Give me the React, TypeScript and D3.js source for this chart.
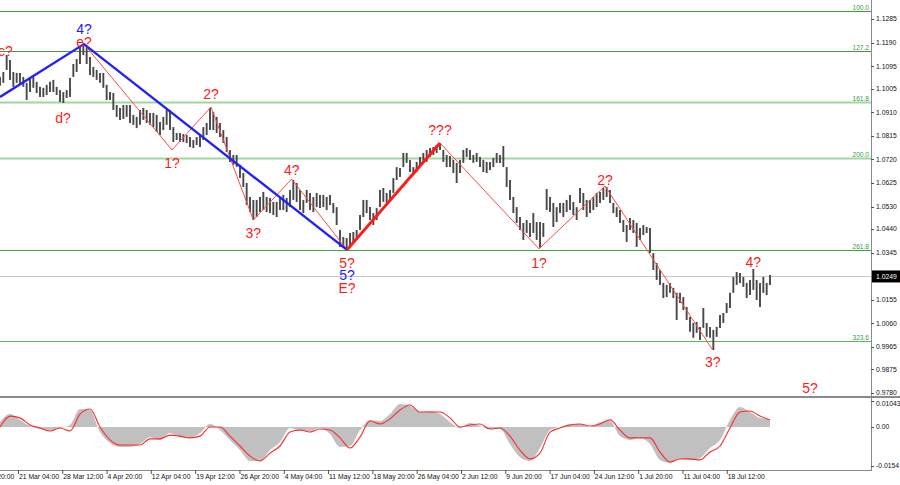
import React from "react";
import * as d3 from "d3";

// ---------- DATA ----------
const barHigh = [
  1.1052, 1.1072, 1.1140, 1.1120, 1.1072, 1.1068, 1.1068, 1.1052, 1.1028, 1.1048,
  1.1052, 1.1032, 1.1012, 1.1008, 1.1020, 1.1032, 1.1040, 1.1012, 1.0999, 1.0991,
  1.0999, 1.1048, 1.1104, 1.1124, 1.1172, 1.1184, 1.1172, 1.1132, 1.1092, 1.1080,
  1.1068, 1.1068, 1.1020, 1.0991, 1.0987, 1.0939, 1.0927, 1.0939, 1.0939, 1.0939,
  1.0899, 1.0891, 1.0919, 1.0927, 1.0919, 1.0907, 1.0907, 1.0899, 1.0871, 1.0891,
  1.0919, 1.0919, 1.0850, 1.0826, 1.0826, 1.0822, 1.0818, 1.0810, 1.0798, 1.0810,
  1.0818, 1.0850, 1.0867, 1.0927, 1.0911, 1.0891, 1.0867, 1.0838, 1.0810, 1.0758,
  1.0738, 1.0738, 1.0698, 1.0665, 1.0625, 1.0569, 1.0557, 1.0557, 1.0569, 1.0589,
  1.0569, 1.0565, 1.0549, 1.0549, 1.0569, 1.0577, 1.0565, 1.0597, 1.0637, 1.0625,
  1.0597, 1.0557, 1.0597, 1.0585, 1.0569, 1.0585, 1.0577, 1.0577, 1.0569, 1.0577,
  1.0545, 1.0528, 1.0436, 1.0408, 1.0404, 1.0424, 1.0428, 1.0436, 1.0496, 1.0557,
  1.0557, 1.0528, 1.0504, 1.0524, 1.0597, 1.0605, 1.0585, 1.0597, 1.0645, 1.0689,
  1.0685, 1.0746, 1.0746, 1.0718, 1.0689, 1.0710, 1.0730, 1.0746, 1.0758, 1.0766,
  1.0770, 1.0778, 1.0786, 1.0758, 1.0738, 1.0734, 1.0718, 1.0706, 1.0718, 1.0758,
  1.0766, 1.0758, 1.0738, 1.0746, 1.0730, 1.0718, 1.0710, 1.0710, 1.0726, 1.0746,
  1.0738, 1.0774, 1.0689, 1.0637, 1.0569, 1.0528, 1.0488, 1.0464, 1.0476, 1.0464,
  1.0504, 1.0468, 1.0468, 1.0464, 1.0601, 1.0569, 1.0545, 1.0528, 1.0545, 1.0545,
  1.0557, 1.0577, 1.0549, 1.0528, 1.0605, 1.0585, 1.0557, 1.0557, 1.0569, 1.0585,
  1.0589, 1.0605, 1.0609, 1.0597, 1.0545, 1.0528, 1.0516, 1.0476, 1.0456, 1.0484,
  1.0476, 1.0464, 1.0444, 1.0456, 1.0448, 1.0444, 1.0343, 1.0303, 1.0275, 1.0223,
  1.0215, 1.0223, 1.0203, 1.0183, 1.0183, 1.0166, 1.0126, 1.0086, 1.0062, 1.0066,
  1.0046, 1.0122, 1.0062, 1.0046, 1.0034, 1.0046, 1.0094, 1.0102, 1.0142, 1.0183,
  1.0247, 1.0267, 1.0263, 1.0247, 1.0223, 1.0235, 1.0279, 1.0235, 1.0223, 1.0247,
  1.0223, 1.0255,
];

const barLow = [
  1.1016, 1.1028, 1.1080, 1.1040, 1.1012, 1.1028, 1.1020, 1.1012, 1.0959, 1.0991,
  1.1008, 1.0987, 1.0971, 1.0971, 1.0979, 1.0991, 1.0991, 1.0979, 1.0951, 1.0947,
  1.0967, 1.0971, 1.1052, 1.1072, 1.1104, 1.1140, 1.1104, 1.1060, 1.1052, 1.1040,
  1.1028, 1.1008, 1.0959, 1.0959, 1.0919, 1.0891, 1.0879, 1.0883, 1.0891, 1.0867,
  1.0859, 1.0846, 1.0859, 1.0879, 1.0867, 1.0859, 1.0850, 1.0830, 1.0818, 1.0838,
  1.0859, 1.0838, 1.0790, 1.0798, 1.0790, 1.0790, 1.0786, 1.0770, 1.0766, 1.0778,
  1.0770, 1.0798, 1.0818, 1.0838, 1.0838, 1.0826, 1.0810, 1.0786, 1.0750, 1.0710,
  1.0698, 1.0690, 1.0645, 1.0609, 1.0537, 1.0508, 1.0476, 1.0488, 1.0508, 1.0516,
  1.0508, 1.0504, 1.0496, 1.0488, 1.0516, 1.0516, 1.0508, 1.0528, 1.0557, 1.0549,
  1.0516, 1.0504, 1.0545, 1.0516, 1.0508, 1.0528, 1.0524, 1.0528, 1.0516, 1.0537,
  1.0504, 1.0456, 1.0368, 1.0364, 1.0356, 1.0368, 1.0384, 1.0396, 1.0436, 1.0488,
  1.0504, 1.0476, 1.0456, 1.0476, 1.0528, 1.0549, 1.0545, 1.0557, 1.0585, 1.0637,
  1.0649, 1.0689, 1.0706, 1.0669, 1.0657, 1.0669, 1.0689, 1.0706, 1.0710, 1.0730,
  1.0738, 1.0746, 1.0758, 1.0710, 1.0689, 1.0689, 1.0665, 1.0625, 1.0665, 1.0706,
  1.0730, 1.0718, 1.0706, 1.0710, 1.0689, 1.0669, 1.0665, 1.0677, 1.0689, 1.0706,
  1.0706, 1.0689, 1.0609, 1.0557, 1.0504, 1.0464, 1.0436, 1.0396, 1.0424, 1.0408,
  1.0424, 1.0396, 1.0364, 1.0408, 1.0516, 1.0508, 1.0448, 1.0468, 1.0504, 1.0488,
  1.0508, 1.0516, 1.0496, 1.0476, 1.0545, 1.0516, 1.0488, 1.0504, 1.0516, 1.0528,
  1.0545, 1.0557, 1.0569, 1.0545, 1.0504, 1.0488, 1.0464, 1.0428, 1.0388, 1.0436,
  1.0424, 1.0368, 1.0396, 1.0416, 1.0424, 1.0343, 1.0275, 1.0235, 1.0215, 1.0162,
  1.0166, 1.0183, 1.0162, 1.0074, 1.0142, 1.0114, 1.0074, 1.0026, 1.0002, 1.0022,
  0.9993, 1.0042, 1.0006, 1.0002, 0.9953, 1.0006, 1.0042, 1.0062, 1.0102, 1.0122,
  1.0183, 1.0215, 1.0223, 1.0207, 1.0162, 1.0174, 1.0195, 1.0154, 1.0126, 1.0183,
  1.0174, 1.0215,
];

const lastPrice = 1.0249;
const lastPriceLabel = "1.0249";

const priceTicks = [
  1.1285, 1.119, 1.1095, 1.1005, 1.091, 1.0815, 1.072, 1.0625, 1.053, 1.044,
  1.0345, 1.0155, 1.006, 0.9965, 0.9875, 0.978,
];
const priceTickLabels = [
  "1.1285", "1.1190", "1.1095", "1.1005", "1.0910", "1.0815", "1.0720", "1.0625",
  "1.0530", "1.0440", "1.0345", "1.0155", "1.0060", "0.9965", "0.9875", "0.9780",
];

const fibLabels = ["100.0", "127.2", "161.8", "200.0", "261.8", "323.6"];
const fibPrices = [1.1317, 1.1156, 1.0951, 1.0726, 1.0355, 0.9989];

const timeLabels = [
  "11 Mar 20:00", "21 Mar 04:00", "28 Mar 12:00", "4 Apr 20:00", "12 Apr 04:00",
  "19 Apr 12:00", "26 Apr 20:00", "4 May 04:00", "11 May 12:00", "18 May 20:00",
  "26 May 04:00", "2 Jun 12:00", "9 Jun 20:00", "17 Jun 04:00", "24 Jun 12:00",
  "1 Jul 20:00", "11 Jul 04:00", "18 Jul 12:00",
];
const firstTimeTickBar = -7.9;
const timeTickStepBars = 13.29;

// oscillator (sampled every 3 bars)
const oscStep = 3;
const oscHist = [
  0.0020, 0.0051, 0.0028, 0.0004, -0.0008, -0.0012, -0.0004, 0.0008, 0.0071, 0.0067,
  -0.0020, -0.0063, -0.0079, -0.0079, -0.0067, -0.0040, -0.0051, -0.0024, -0.0040, -0.0043,
  -0.0024, 0.0012, -0.0012, -0.0051, -0.0091, -0.0134, -0.0134, -0.0091, -0.0059, -0.0004,
  -0.0016, -0.0016, -0.0004, -0.0028, -0.0079, -0.0075, -0.0012, 0.0028, 0.0024, 0.0051,
  0.0091, 0.0083, 0.0059, 0.0063, 0.0051, 0.0020, -0.0004, 0.0016, 0.0004, -0.0008,
  -0.0008, -0.0067, -0.0119, -0.0134, -0.0083, -0.0012, 0.0000, 0.0012, 0.0012, 0.0000,
  0.0020, 0.0024, -0.0036, -0.0051, -0.0043, -0.0067, -0.0130, -0.0142, -0.0122, -0.0130,
  -0.0122, -0.0083, -0.0051, 0.0028, 0.0079, 0.0059, 0.0036, 0.0032,
];
const oscSignal = [
  0.0000, 0.0043, 0.0036, 0.0008, -0.0004, -0.0016, -0.0004, -0.0016, 0.0051, 0.0071,
  0.0000, -0.0051, -0.0071, -0.0071, -0.0071, -0.0047, -0.0047, -0.0032, -0.0036, -0.0043,
  -0.0036, 0.0000, 0.0000, -0.0036, -0.0075, -0.0115, -0.0134, -0.0103, -0.0075, -0.0020,
  -0.0012, -0.0020, -0.0008, -0.0012, -0.0043, -0.0083, -0.0040, 0.0024, 0.0012, 0.0032,
  0.0067, 0.0087, 0.0059, 0.0059, 0.0059, 0.0036, 0.0000, 0.0008, 0.0012, -0.0008,
  -0.0004, -0.0036, -0.0091, -0.0126, -0.0103, -0.0020, -0.0004, 0.0008, 0.0012, 0.0004,
  0.0012, 0.0028, -0.0012, -0.0043, -0.0043, -0.0043, -0.0099, -0.0138, -0.0126, -0.0126,
  -0.0130, -0.0099, -0.0075, -0.0004, 0.0059, 0.0063, 0.0043, 0.0028,
];
const oscMax = 0.01043;
const oscMin = -0.0154;
const oscTickValues = [0.01043, 0, -0.0154];
const oscTickLabels = ["0.01043", "0.00", "-0.0154"];

// wave paths: [bar, price]
const blueWave: [number, number][] = [[0, 1.0971], [25.2, 1.1184], [104.1, 1.0356]];
const redWaveA: [number, number][] = [
  [25.2, 1.1184], [51.6, 1.0758], [63.3, 1.0931], [76, 1.0476], [87.5, 1.0641], [104.1, 1.0356],
];
const redImpulse: [number, number][] = [[104.1, 1.0356], [132, 1.0786]];
const redWaveB: [number, number][] = [
  [132, 1.0786], [161.7, 1.036], [181.5, 1.0613], [213.8, 0.9953],
];

// wave labels
const waveLabelText = ["c?", "4?", "e?", "d?", "1?", "2?", "3?", "4?", "5?", "5?", "E?", "???", "1?", "2?", "3?", "4?", "5?"];
const waveLabelBar = [1.6, 25.2, 25.2, 18.9, 51.6, 63.3, 76, 87.5, 104.1, 104.1, 104.1, 132, 161.7, 181.5, 213.8, 226, 243];
const waveLabelPrice = [1.114, 1.1184, 1.1184, 1.0947, 1.0758, 1.0931, 1.0476, 1.0641, 1.0356, 1.0356, 1.0356, 1.0786, 1.036, 1.0613, 0.9953, 1.0279, 0.978];
const waveLabelDegree = ["r", "b", "r", "r", "r", "r", "r", "r", "r", "b", "r", "r", "r", "r", "r", "r", "r"];
const waveLabelOffset = [1, -10, 3, 20, 18, -8, 18, -4, 18, 30, 43, -8, 19, -1, 17, -2, 0];

// ---------- CHART ----------
const W = 900;
const H = 485;
const AXIS_X = 871;
const MAIN_BOTTOM = 396;
const OSC_BOTTOM = 470;

export default function App() {
  const x = d3.scaleLinear().domain([0, 231]).range([0, 770]);
  const y = d3.scaleLinear().domain([0.978, 1.1285]).range([393, 19]);
  const oy = d3.scaleLinear().domain([oscMin, oscMax]).range([466, 400.6]);

  const line = d3
    .line<[number, number]>()
    .x((d) => x(d[0]))
    .y((d) => y(d[1]));

  const histArea = d3
    .area<number>()
    .x((_, k) => x(k * oscStep))
    .y0(oy(0))
    .y1((v) => oy(v))
    .curve(d3.curveMonotoneX);
  const sigLine = d3
    .line<number>()
    .x((_, k) => x(k * oscStep))
    .y((v) => oy(v))
    .curve(d3.curveMonotoneX);

  const fibColors = ["#3f9a3f", "#3f9a3f", "#9fd89f", "#9fd89f", "#3aa83a", "#5cb85c"];
  const fibWidths = [1, 1, 2, 2, 1, 1];
  const axisFont = "'Liberation Sans', Arial, sans-serif";
  const RED = "#ff1a1a";
  const BLUE = "#2020ff";

  return (
    <svg
      width={W}
      height={H}
      style={{ position: "fixed", left: 0, top: 0, background: "#fff" }}
      fontFamily={axisFont}
    >
      <rect x={0} y={0} width={W} height={H} fill="#fff" />
      <defs>
        <clipPath id="mainClip">
          <rect x={0} y={0} width={AXIS_X} height={MAIN_BOTTOM} />
        </clipPath>
        <clipPath id="oscClip">
          <rect x={0} y={399} width={AXIS_X} height={OSC_BOTTOM - 399} />
        </clipPath>
      </defs>

      <g clipPath="url(#mainClip)">
        {/* fib levels */}
        {fibPrices.map((p, k) => (
          <g key={"fib" + k}>
            <line
              x1={0}
              x2={AXIS_X}
              y1={Math.round(y(p)) + 0.5}
              y2={Math.round(y(p)) + 0.5}
              stroke={fibColors[k]}
              strokeWidth={fibWidths[k]}
            />
            <text
              x={AXIS_X - 2}
              y={Math.round(y(p)) - 1.5}
              textAnchor="end"
              fontSize={6.6}
              fill="#3c9a3c"
            >
              {fibLabels[k]}
            </text>
          </g>
        ))}
        {/* last price line */}
        <line
          x1={0}
          x2={AXIS_X}
          y1={Math.round(y(lastPrice)) + 0.5}
          y2={Math.round(y(lastPrice)) + 0.5}
          stroke="#c8c8c8"
          strokeWidth={1}
        />
        {/* bars */}
        {barHigh.map((h, i) => (
          <line
            key={"b" + i}
            x1={x(i)}
            x2={x(i)}
            y1={y(h)}
            y2={y(barLow[i])}
            stroke="#484848"
            strokeWidth={1.9}
          />
        ))}
        {/* waves */}
        <path d={line(redWaveA) || ""} fill="none" stroke="#ff4a4a" strokeWidth={1} />
        <path d={line(redWaveB) || ""} fill="none" stroke="#ff4a4a" strokeWidth={1} />
        <path d={line(blueWave) || ""} fill="none" stroke={BLUE} strokeWidth={2.4} />
        <path d={line(redImpulse) || ""} fill="none" stroke={RED} strokeWidth={3} />
        {/* labels */}
        {waveLabelText.map((t, k) => (
          <text
            key={"wl" + k}
            x={x(waveLabelBar[k])}
            y={y(waveLabelPrice[k]) + waveLabelOffset[k]}
            textAnchor="middle"
            fontSize={14}
            fill={waveLabelDegree[k] === "b" ? BLUE : RED}
          >
            {t}
          </text>
        ))}
      </g>

      {/* panel separators */}
      <rect x={0} y={MAIN_BOTTOM} width={W} height={2} fill="#8a8a8a" />
      <line x1={0} x2={AXIS_X} y1={OSC_BOTTOM + 0.5} y2={OSC_BOTTOM + 0.5} stroke="#8a8a8a" />

      {/* oscillator */}
      <g clipPath="url(#oscClip)">
        <path d={histArea(oscHist) || ""} fill="#c0c0c0" stroke="none" />
        <path d={sigLine(oscSignal) || ""} fill="none" stroke="#ff2a2a" strokeWidth={1.1} />
      </g>

      {/* right axis */}
      <line x1={AXIS_X + 0.5} x2={AXIS_X + 0.5} y1={0} y2={OSC_BOTTOM + 1} stroke="#8a8a8a" />
      {priceTicks.map((p, k) => (
        <g key={"pt" + k}>
          <line
            x1={AXIS_X}
            x2={AXIS_X + 3}
            y1={Math.round(y(p)) + 0.5}
            y2={Math.round(y(p)) + 0.5}
            stroke="#555"
          />
          <text x={AXIS_X + 5} y={y(p)} dy="0.35em" fontSize={6.8} fill="#111">
            {priceTickLabels[k]}
          </text>
        </g>
      ))}
      <rect x={AXIS_X + 1} y={y(lastPrice) - 6} width={W - AXIS_X - 1} height={12} fill="#000" />
      <text x={AXIS_X + 5} y={y(lastPrice)} dy="0.35em" fontSize={6.8} fill="#fff">
        {lastPriceLabel}
      </text>
      {oscTickValues.map((v, k) => (
        <g key={"ot" + k}>
          <line
            x1={AXIS_X}
            x2={AXIS_X + 3}
            y1={Math.round(oy(v)) + 0.5}
            y2={Math.round(oy(v)) + 0.5}
            stroke="#555"
          />
          <text
            x={AXIS_X + 5}
            y={oy(v) + (k === 0 ? 3.5 : 0)}
            dy="0.35em"
            fontSize={6.8}
            fill="#111"
          >
            {oscTickLabels[k]}
          </text>
        </g>
      ))}

      {/* time axis */}
      {timeLabels.map((t, k) => {
        const bx = x(firstTimeTickBar + k * timeTickStepBars);
        return (
          <g key={"tt" + k}>
            <line x1={bx + 0.5} x2={bx + 0.5} y1={OSC_BOTTOM} y2={OSC_BOTTOM + 4} stroke="#555" />
            <text x={bx + 1} y={479} fontSize={6.8} fill="#111">
              {t}
            </text>
          </g>
        );
      })}
    </svg>
  );
}
